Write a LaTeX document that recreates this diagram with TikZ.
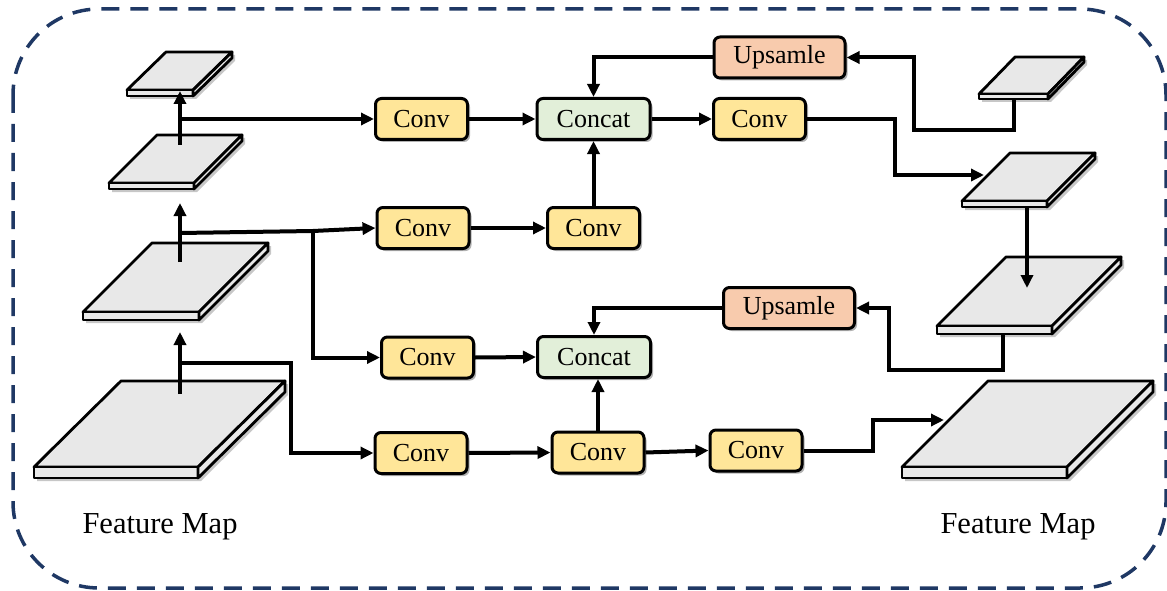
\documentclass[tikz,border=0pt]{standalone}
\usepackage{fontspec}
\setmainfont{Liberation Serif}
\usetikzlibrary{arrows.meta,shadows}
\definecolor{convc}{HTML}{FFE699}
\definecolor{catc}{HTML}{E2EFD9}
\definecolor{upc}{HTML}{F8CBAD}
\definecolor{fmc}{HTML}{E8E8E8}
\definecolor{navy}{HTML}{1F3864}
\newcommand{\fmap}[6]{%
  \pgfmathsetmacro{\fmw}{#2-#1}
  \begin{scope}[shift={(3,3)}]
    \fill[black,opacity=0.22] (#1,#3) -- (#4,#5) -- ({#4+\fmw},#5) -- ({#4+\fmw},{#5+#6}) -- (#2,{#3+#6}) -- (#1,{#3+#6}) -- cycle;
  \end{scope}
  \draw[fm] (#1,#3) -- (#2,#3) -- ({#4+\fmw},#5) -- (#4,#5) -- cycle;
  \draw[fm] (#1,#3) rectangle (#2,{#3+#6});
  \draw[fm] (#2,#3) -- ({#4+\fmw},#5) -- ({#4+\fmw},{#5+#6}) -- (#2,{#3+#6}) -- cycle;
}
\begin{document}
\begin{tikzpicture}[x=1pt,y=-1pt,
  fm/.style={draw=black,fill=fmc,line width=2.8pt,line join=round},
  box/.style={draw=black,line width=3pt,rounded corners=6pt,minimum height=41pt,inner sep=0pt,
    font=\fontsize{26}{30}\selectfont,
    drop shadow={shadow xshift=2.5pt,shadow yshift=-2.5pt,opacity=0.3,fill=black}},
  conv/.style={box,fill=convc,minimum width=92pt},
  cat/.style={box,fill=catc,minimum width=113pt},
  up/.style={box,fill=upc,minimum width=131pt},
  arr/.style={line width=4pt,-{Triangle[length=13pt,width=12pt]}},
  lbl/.style={font=\fontsize{30.5}{34}\selectfont}]
\useasboundingbox (0,0) rectangle (1167,591);
\draw[navy,line width=3.5pt,dash pattern=on 18pt off 11pt,rounded corners=86pt] (13,9) rectangle (1166,588);

% feature maps
\fmap{127}{193}{90}{166}{52}{6}
\fmap{109}{194}{183}{157}{135}{6}
\fmap{83}{199}{312}{152}{243}{8}
\fmap{34}{198}{467}{121}{381}{11}
\fmap{979}{1048}{94}{1015}{57}{5}
\fmap{962}{1047}{201}{1010}{153}{6}
\fmap{937}{1052}{326}{1006}{257}{8}
\fmap{902}{1067}{467}{988}{381}{11}

% anchor coordinates on feature maps
\coordinate (L4a) at (180,394);
\coordinate (L3in) at (180,332);
\coordinate (Lb1) at (180,363);
\coordinate (L3a) at (180,262);
\coordinate (L2in) at (180,203);
\coordinate (Lb2) at (180,233);
\coordinate (J2) at (313,231);
\coordinate (L2a) at (180,145);
\coordinate (L1in) at (180,91);
\coordinate (Lb3) at (180,119);
\coordinate (R1b) at (1014,99);
\coordinate (R2in) at (984,175);
\coordinate (R2b) at (1027,207);
\coordinate (R3in) at (1027,288);
\coordinate (R3b) at (1003,334);
\coordinate (R4in) at (944,420);

% boxes
\node[conv] (Conv1) at (421.5,119) {Conv};
\node[cat] (ConcatT) at (593.5,119) {Concat};
\node[conv] (ConvTR) at (759.5,119) {Conv};
\node[up] (UpT) at (779.5,57.5) {Upsamle};
\node[conv] (Conv2a) at (423,228) {Conv};
\node[conv] (Conv2b) at (593.5,228) {Conv};
\node[up] (UpB) at (789,308) {Upsamle};
\node[cat] (ConcatB) at (594,357) {Concat};
\node[conv] (Conv3) at (427.5,357.5) {Conv};
\node[conv] (Conv4a) at (421,453) {Conv};
\node[conv] (Conv4b) at (598,452.5) {Conv};
\node[conv] (Conv4c) at (756,450.5) {Conv};

\node[lbl] (FML) at (160,527) {Feature Map};
\node[lbl] (FMR) at (1018,527) {Feature Map};

% left column
\draw[arr] (L4a) -- (L3in);
\draw[arr] (Lb1) -| ([xshift=-83pt]Conv4a.west) -- (Conv4a.west);
\draw[arr] (L3a) -- (L2in);
\draw[arr] (Lb2) -- (J2) -- (Conv2a.west);
\draw[arr] (J2) |- (Conv3.west);
\draw[arr] (L2a) -- (L1in);
\draw[arr] (Lb3) -- (Conv1.west);

% middle
\draw[arr] (Conv1.east) -- (ConcatT.west);
\draw[arr] (Conv2a.east) -- (Conv2b.west);
\draw[arr] (Conv2b.north) -- (ConcatT.south);
\draw[arr] (ConcatT.east) -- (ConvTR.west);
\draw[arr] (UpT.west) -| (ConcatT.north);
\draw[arr] (UpB.west) -| (ConcatB.north);
\draw[arr] (Conv3.east) -- (ConcatB.west);
\draw[arr] (Conv4a.east) -- (Conv4b.west);
\draw[arr] (Conv4b.north) -- (Conv4b.north |- ConcatB.south);
\draw[arr] (Conv4b.east) -- (Conv4c.west);

% right column
\draw[arr] (R1b) -- (R1b |- 0,130) -| ([xshift=67pt]UpT.east) -- (UpT.east);
\draw[arr] (ConvTR.east) -| ([xshift=-89pt]R2in) -- (R2in);
\draw[arr] (R2b) -- (R3in);
\draw[arr] (R3b) -- (R3b |- 0,370) -| ([xshift=33pt]UpB.east) -- (UpB.east);
\draw[arr] (Conv4c.east) -| ([xshift=-71pt]R4in) -- (R4in);
\end{tikzpicture}
\end{document}
